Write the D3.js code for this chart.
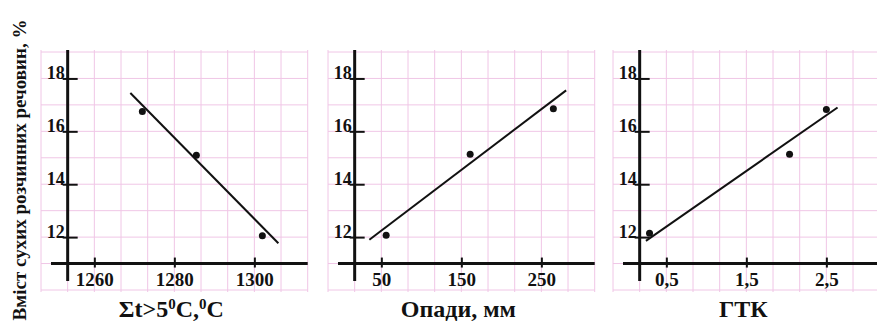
<!DOCTYPE html>
<html>
<head>
<meta charset="utf-8">
<script src="https://cdn.jsdelivr.net/npm/d3@7"></script>
<style>
  html, body { margin: 0; padding: 0; background: #fff; }
  svg { display: block; }
  text { font-family: "Liberation Serif", "DejaVu Serif", "Times New Roman", serif; font-weight: bold; fill: #111; }
</style>
</head>
<body>
<svg id="chart" width="877" height="329"></svg>
<script>
// ---- data ----
const yTicks = [12, 14, 16, 18];
const yLabel = "Вміст сухих розчинних речовин, %";

const p1Ticks = [1260, 1280, 1300];
const p1TickLabels = ["1260", "1280", "1300"];
const p1X = [1272, 1285.5, 1302];
const p1Y = [16.75, 15.1, 12.05];
const p1TrendX = [1269, 1306];
const p1TrendY = [17.45, 11.77];

const p2Ticks = [50, 150, 250];
const p2TickLabels = ["50", "150", "250"];
const p2X = [56, 161, 265];
const p2Y = [12.07, 15.13, 16.85];
const p2TrendX = [35, 281];
const p2TrendY = [11.9, 17.55];

const p3Ticks = [0.5, 1.5, 2.5];
const p3TickLabels = ["0,5", "1,5", "2,5"];
const p3X = [0.29, 2.04, 2.5];
const p3Y = [12.15, 15.13, 16.83];
const p3TrendX = [0.245, 2.64];
const p3TrendY = [11.86, 16.9];

const panels = [
  { ticks: p1Ticks, labels: p1TickLabels, x: p1X, y: p1Y, tx: p1TrendX, ty: p1TrendY, title: "p1" },
  { ticks: p2Ticks, labels: p2TickLabels, x: p2X, y: p2Y, tx: p2TrendX, ty: p2TrendY, title: "Опади, мм" },
  { ticks: p3Ticks, labels: p3TickLabels, x: p3X, y: p3Y, tx: p3TrendX, ty: p3TrendY, title: "ГТК" }
];

// ---- layout ----
const svg = d3.select("#chart");
const cell = 26.67;
const gridLefts = [41, 328, 613];
const yScale = d3.scaleLinear().domain([10, 19]).range([290, 52]);
const gridColor = "#f0c6e6";
const serif = "'Liberation Serif', 'DejaVu Serif', serif";

panels.forEach((p, i) => {
  const g = svg.append("g");
  const left = gridLefts[i];
  const step = (p.ticks[1] - p.ticks[0]) / 3;
  const x0 = p.ticks[0] - 2 * step;
  const xScale = d3.scaleLinear().domain([x0, x0 + 10 * step]).range([left, left + 10 * cell]);

  // grid
  const gx = d3.range(11).map(k => x0 + k * step);
  const gy = d3.range(10, 20);
  g.selectAll(".gv").data(gx).join("line")
    .attr("x1", d => xScale(d)).attr("x2", d => xScale(d))
    .attr("y1", yScale(19) - 2).attr("y2", yScale(10) + 2)
    .attr("stroke", gridColor).attr("stroke-width", 1);
  g.selectAll(".gh").data(gy).join("line")
    .attr("x1", xScale(x0)).attr("x2", xScale(x0 + 10 * step))
    .attr("y1", d => yScale(d)).attr("y2", d => yScale(d))
    .attr("stroke", gridColor).attr("stroke-width", 1);

  const axisX = xScale(x0 + step);
  const axisY = yScale(11);

  // x axis
  const xa = g.append("g").attr("transform", `translate(0,${axisY})`)
    .call(d3.axisBottom(xScale).tickValues(p.ticks).tickFormat((d, k) => p.labels[k]).tickSize(4).tickPadding(0));
  xa.attr("font-family", serif).attr("font-size", 19);
  xa.select(".domain").remove();
  xa.selectAll(".tick line").attr("y1", -6).attr("y2", 4).attr("stroke", "#111").attr("stroke-width", 2);
  xa.selectAll(".tick text").attr("y", 22).attr("dy", 0)
    .style("font-size", "19px").style("font-family", serif).style("font-weight", "bold").attr("fill", "#111");
  g.append("line").attr("x1", xScale(x0) + 10).attr("x2", xScale(x0 + 10 * step))
    .attr("y1", axisY).attr("y2", axisY).attr("stroke", "#111").attr("stroke-width", 3);

  // y axis
  const ya = g.append("g").attr("transform", `translate(${axisX},0)`)
    .call(d3.axisLeft(yScale).tickValues(yTicks).tickSize(5).tickPadding(0));
  ya.attr("font-family", serif).attr("font-size", 18);
  ya.select(".domain").remove();
  ya.selectAll(".tick line").attr("x1", -5).attr("x2", 10).attr("stroke", "#111").attr("stroke-width", 2);
  ya.selectAll(".tick text").attr("x", -3).attr("dy", 0).attr("y", 0)
    .style("font-size", "18px").style("font-family", serif).style("font-weight", "bold").attr("fill", "#111");
  g.append("line").attr("x1", axisX).attr("x2", axisX)
    .attr("y1", 50).attr("y2", 281).attr("stroke", "#111").attr("stroke-width", 3);

  // trend line
  g.append("line")
    .attr("x1", xScale(p.tx[0])).attr("y1", yScale(p.ty[0]))
    .attr("x2", xScale(p.tx[1])).attr("y2", yScale(p.ty[1]))
    .attr("stroke", "#111").attr("stroke-width", 2);

  // points
  g.selectAll(".pt").data(p.x.map((v, k) => [v, p.y[k]])).join("circle")
    .attr("cx", d => xScale(d[0])).attr("cy", d => yScale(d[1])).attr("r", 3.5).attr("fill", "#111");

  // title
  const cx = xScale(p.ticks[1]) - 3;
  const t = g.append("text").attr("x", cx).attr("y", 317).attr("text-anchor", "middle").style("font-size", "24px");
  if (i === 0) {
    t.append("tspan").text("Σt>5");
    t.append("tspan").attr("dy", -8).style("font-size", "15px").text("0");
    t.append("tspan").attr("dy", 8).text("C,");
    t.append("tspan").attr("dy", -8).style("font-size", "15px").text("0");
    t.append("tspan").attr("dy", 8).text("C");
  } else {
    t.text(p.title);
  }
});

// y label
svg.append("text")
  .attr("transform", "translate(26,170) rotate(-90)")
  .attr("text-anchor", "middle")
  .style("font-size", "19px")
  .text(yLabel);
</script>
</body>
</html>
